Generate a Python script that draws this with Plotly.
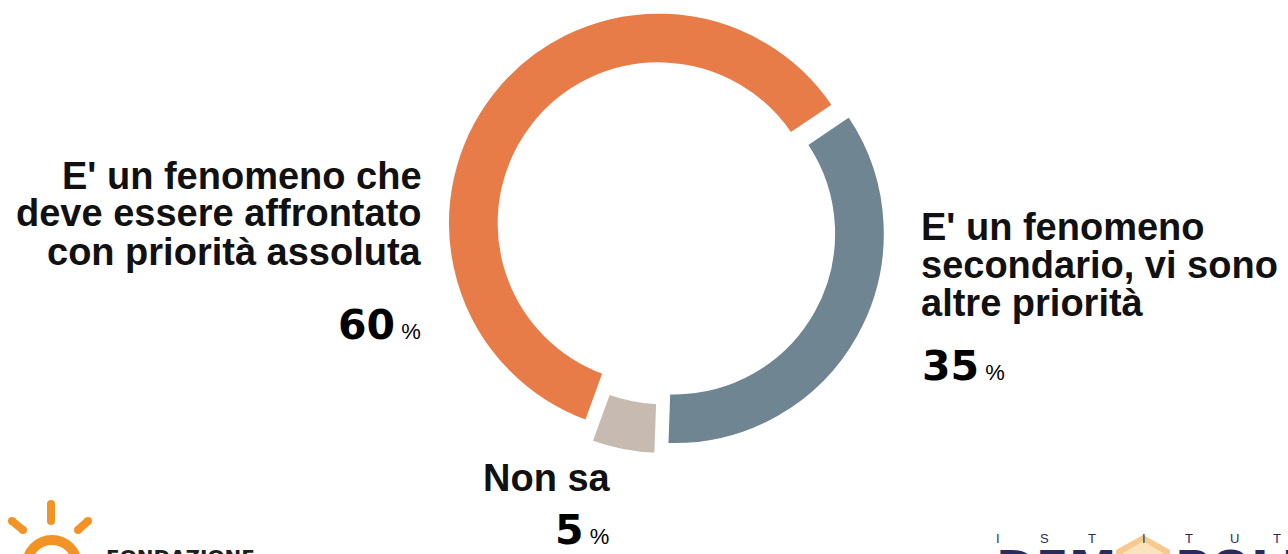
import plotly.graph_objects as go

W, H = 1288, 554

# ---- data ----
categories = [
    "E' un fenomeno secondario, vi sono altre priorità",
    "Non sa",
    "E' un fenomeno che deve essere affrontato con priorità assoluta",
]
values = [35, 5, 60]
colors = ["#6F8591", "#C6BAB1", "#E77C48"]
label_lines = [
    ["E' un fenomeno", "secondario, vi sono", "altre priorità"],
    ["Non sa"],
    ["E' un fenomeno che", "deve essere affrontato", "con priorità assoluta"],
]


def px(x):
    return x / W


def py(y):
    return 1 - y / H


# pie geometry (pixels)
cx, cy, R = 666, 229, 211
pulls = [0.045, 0.07, 0.045]
half = R * (1 + max(pulls))

fig = go.Figure(
    go.Pie(
        labels=categories,
        values=values,
        marker=dict(colors=colors, line=dict(color="white", width=3)),
        hole=0.755,
        sort=False,
        direction="clockwise",
        rotation=56,
        pull=pulls,
        textinfo="none",
        hoverinfo="label+percent",
        showlegend=False,
        domain=dict(x=[px(cx - half), px(cx + half)], y=[py(cy + half), py(cy - half)]),
    )
)

ann = []
TXT = dict(family="Liberation Sans, Arial, sans-serif", size=38, color="#111111")


def txt(x, y, s, font, xa="left", ya="middle", bold=False):
    if bold:
        s = "<b>" + s + "</b>"
    ann.append(dict(x=px(x), y=py(y), xref="paper", yref="paper", text=s, showarrow=False,
                    xanchor=xa, yanchor=ya, font=font, align=xa if xa != "center" else "center"))


def pct(v):
    return ("<span style='font-family:DejaVu Sans;font-weight:bold;font-size:41px'>" + str(v) +
            "</span><span style='font-family:Liberation Sans;font-size:22px'> %</span>")


PF = dict(family="Liberation Sans, Arial, sans-serif", size=22, color="#000000")

# left label (priorità assoluta)
for i, line in enumerate(label_lines[2]):
    txt(424, 175.5 + 38 * i, line, TXT, xa="right", bold=True)
txt(423, 325, pct(values[2]), PF, xa="right")

# right label (secondario)
for i, line in enumerate(label_lines[0]):
    txt(919, 226.5 + 38 * i, line, TXT, xa="left", bold=True)
txt(920, 366, pct(values[0]), PF, xa="left")

# bottom label (non sa)
txt(547, 477.5, label_lines[1][0], TXT, xa="center", bold=True)
txt(582, 530, pct(values[1]), PF, xa="center")

# ---- logos (decoration) ----
SUN = "#F39325"
NAVY = "#2B2A5E"
shapes = []


def seg(x0, y0, x1, y1, w, c):
    shapes.append(dict(type="line", xref="paper", yref="paper", x0=px(x0), y0=py(y0), x1=px(x1), y1=py(y1),
                       line=dict(color=c, width=w)))
    for (a, b) in ((x0, y0), (x1, y1)):
        r = w / 2
        shapes.append(dict(type="circle", xref="paper", yref="paper", x0=px(a - r), x1=px(a + r),
                           y0=py(b + r), y1=py(b - r), fillcolor=c, line=dict(width=0)))


seg(51, 504, 51, 521, 8, SUN)
seg(12, 521, 23, 530, 8, SUN)
seg(88, 521, 78, 530, 8, SUN)
shapes.append(dict(type="circle", xref="paper", yref="paper", x0=px(52 - 25), x1=px(52 + 25),
                   y0=py(565 + 25), y1=py(565 - 25), line=dict(color=SUN, width=10)))

txt(104, 557, "FONDAZIONE", dict(family="DejaVu Sans, sans-serif", size=20, color="#1E1E1E", weight="bold"),
    xa="left")

# Demopolis
hexpts = [(1143, 535), (1170, 550), (1170, 580), (1143, 595), (1116, 580), (1116, 550)]
path = "M " + " L ".join(f"{px(a)},{py(b)}" for a, b in hexpts) + " Z"
shapes.append(dict(type="path", xref="paper", yref="paper", path=path, fillcolor="#F8C98C",
                   line=dict(width=0)))
hexin = [(1143, 541), (1163, 553), (1163, 580), (1143, 590), (1123, 580), (1123, 553)]
path2 = "M " + " L ".join(f"{px(a)},{py(b)}" for a, b in hexin) + " Z"
shapes.append(dict(type="path", xref="paper", yref="paper", path=path2, fillcolor="#FBE3BE",
                   line=dict(width=0)))

for ch, x in zip("ISTITUT", [998, 1044, 1092, 1144, 1189, 1234, 1277]):
    txt(x, 538.5, ch, dict(family="Liberation Sans, Arial, sans-serif", size=13, color=NAVY), xa="center")

DEMO = dict(family="DejaVu Sans, sans-serif", size=48, color=NAVY, weight="bold")
txt(994, 568, "DEM", DEMO, xa="left")
txt(1173, 568, "POLIS", DEMO, xa="left")

fig.update_layout(
    width=W, height=H,
    margin=dict(l=0, r=0, t=0, b=0),
    paper_bgcolor="white", plot_bgcolor="white",
    annotations=ann, shapes=shapes,
)

fig.write_html("out.html", config={"displayModeBar": False},
               post_script="document.body.style.margin='0';document.body.style.padding='0';")
